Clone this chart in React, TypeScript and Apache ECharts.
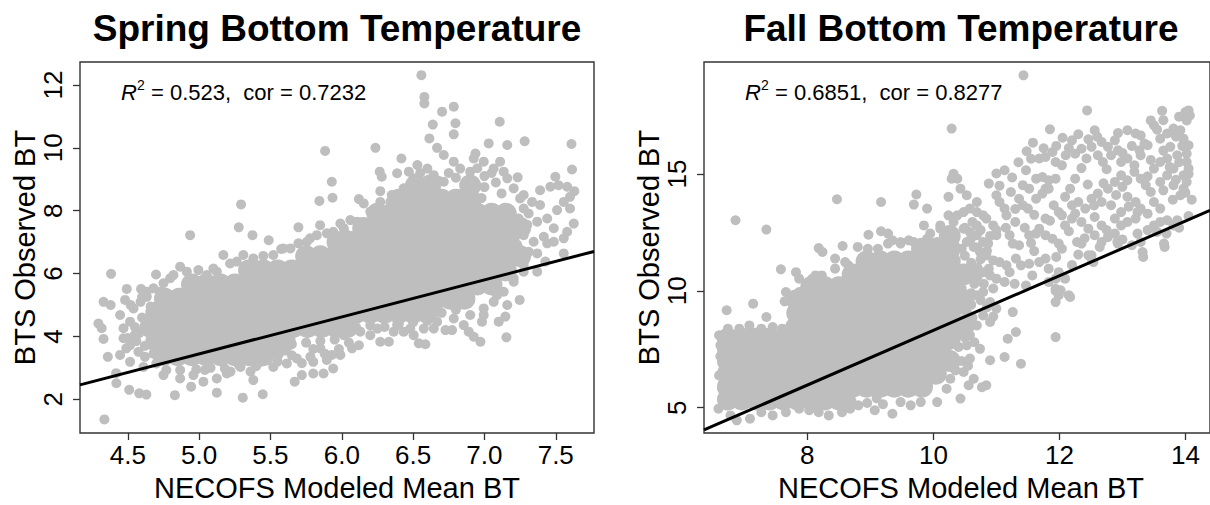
import React, { useEffect, useRef } from "react";
import * as echarts from "echarts";

// ---- tick positions ----
const springXTicks = [4.5, 5.0, 5.5, 6.0, 6.5, 7.0, 7.5];
const springYTicks = [2, 4, 6, 8, 10, 12];
const fallXTicks = [8, 10, 12, 14];
const fallYTicks = [5, 10, 15];

// ---- fit statistics ----
const springStats = { r2: "0.523", cor: "0.7232" };
const fallStats = { r2: "0.6851", cor: "0.8277" };

// ---- fitted regression lines (end points at the plot edges) ----
const springFit = [
  [4.165, 2.459],
  [7.768, 6.703],
];
const fallFit = [
  [6.36, 4.05],
  [14.39, 13.44],
];

// ---- Spring: dense body of the cloud, rows of [y, x...] ----
const springCoreRows: [number, number[]][] = [
  [3.4, [4.75, 4.85, 4.95, 5.05, 5.15, 5.25, 5.35, 5.45]],
  [3.85, [4.7, 4.8, 4.9, 5.0, 5.1, 5.2, 5.3, 5.4, 5.5, 5.6]],
  [4.3, [4.66, 4.76, 4.86, 4.96, 5.06, 5.16, 5.26, 5.36, 5.46, 5.56, 5.66, 5.76, 5.86, 5.96, 6.04]],
  [4.75, [4.7, 4.8, 4.9, 5.0, 5.1, 5.2, 5.3, 5.4, 5.5, 5.6, 5.7, 5.8, 5.9, 6.0, 6.1, 6.2, 6.3, 6.4, 6.5, 6.6]],
  [5.2, [4.76, 4.86, 4.96, 5.06, 5.16, 5.26, 5.36, 5.46, 5.56, 5.66, 5.76, 5.86, 5.96, 6.06, 6.16, 6.26, 6.36, 6.46, 6.56, 6.66, 6.76, 6.86]],
  [5.65, [4.95, 5.05, 5.15, 5.25, 5.35, 5.45, 5.55, 5.65, 5.75, 5.85, 5.95, 6.05, 6.15, 6.25, 6.35, 6.45, 6.55, 6.65, 6.75, 6.85, 6.95, 7.05]],
  [6.1, [5.35, 5.45, 5.55, 5.65, 5.75, 5.85, 5.95, 6.05, 6.15, 6.25, 6.35, 6.45, 6.55, 6.65, 6.75, 6.85, 6.95, 7.05, 7.15]],
  [6.55, [5.75, 5.85, 5.95, 6.05, 6.15, 6.25, 6.35, 6.45, 6.55, 6.65, 6.75, 6.85, 6.95, 7.05, 7.15, 7.25]],
  [7.0, [5.97, 6.07, 6.17, 6.27, 6.37, 6.47, 6.57, 6.67, 6.77, 6.87, 6.97, 7.07, 7.17]],
  [7.45, [6.15, 6.25, 6.35, 6.45, 6.55, 6.65, 6.75, 6.85, 6.95, 7.05, 7.15, 7.25]],
  [7.9, [6.25, 6.35, 6.45, 6.55, 6.65, 6.75, 6.85, 6.95, 7.05, 7.15]],
  [8.35, [6.4, 6.5, 6.6, 6.7, 6.8, 6.9]],
  [8.8, [6.52, 6.62, 6.9]],
];

// ---- Spring: individual observations around and outside the body ----
const springDots: number[][] = [
  [5.883, 9.9], [5.93, 8.92], [5.935, 8.41], [5.843, 8.31], [5.294, 8.2], [5.278, 7.47], [5.374, 7.22],
  [5.488, 7.06], [4.937, 7.22], [5.696, 7.47], [5.848, 7.54], [5.575, 6.78], [4.383, 5.99], [4.698, 5.97],
  [4.493, 5.51], [4.593, 5.51], [4.481, 5.16], [4.33, 5.1], [4.38, 5.0], [4.294, 4.41], [4.317, 4.26],
  [4.33, 3.92], [4.36, 3.35], [4.446, 3.41], [4.47, 3.94], [4.516, 3.72], [4.418, 2.83], [4.42, 2.51],
  [4.51, 2.3], [4.58, 2.19], [4.63, 2.15], [4.336, 1.36], [4.83, 2.13], [5.124, 2.21], [5.306, 2.05],
  [5.446, 2.16], [4.944, 2.4], [5.03, 2.56], [4.75, 2.77], [4.867, 2.66], [5.194, 2.82], [5.38, 2.61],
  [5.67, 2.56], [5.72, 2.77], [5.8, 2.82], [5.872, 2.82], [5.93, 3.41], [5.78, 3.35], [5.85, 3.62],
  [5.556, 3.41], [5.474, 3.25],
  [4.727, 5.42], [4.867, 6.22], [4.995, 6.11], [5.124, 6.06], [5.217, 6.32], [5.31, 6.59], [5.17, 6.59],
  [5.45, 6.56], [5.59, 6.8], [5.696, 6.96], [5.778, 7.12], [5.895, 7.28], [4.797, 5.85], [4.633, 5.42],
  [4.516, 3.19], [4.61, 3.03], [4.7, 3.14], [4.77, 2.93], [4.867, 2.93], [4.96, 2.77], [5.04, 2.93],
  [5.124, 2.66], [5.22, 2.88], [5.29, 3.03], [5.36, 2.88], [5.43, 3.19], [5.52, 3.03], [5.615, 3.14],
  [5.685, 3.3], [5.8, 3.19], [5.895, 3.25], [5.94, 2.98],
  [4.98, 2.95], [5.08, 3.0], [5.18, 2.98], [5.28, 3.08], [5.4, 3.05], [5.55, 3.2], [5.65, 3.4],
  [5.72, 3.15], [5.88, 3.45], [5.98, 3.6], [6.05, 3.8],
  [4.446, 4.68], [4.516, 4.47], [4.54, 4.89], [4.47, 4.26], [4.49, 3.62], [4.575, 3.51], [4.59, 5.1],
  [4.633, 5.26], [4.68, 5.53], [4.75, 5.69], [4.82, 5.95], [4.914, 6.06], [5.054, 5.95], [5.1, 6.16],
  [5.264, 6.38], [5.38, 6.48], [5.52, 6.59], [5.64, 6.8], [5.755, 7.01], [5.825, 7.22], [5.94, 7.33],
  [4.62, 3.35], [4.55, 4.05], [4.6, 4.6], [4.56, 3.85], [4.55, 4.3], [4.52, 5.0], [4.6, 5.25],
  [4.58, 4.1], [4.5, 3.95], [4.62, 3.7], [4.66, 4.95], [4.68, 3.45],
  [5.55, 3.7], [5.65, 3.75], [5.75, 3.8], [5.85, 3.85], [5.95, 3.9], [5.6, 3.55], [5.8, 3.6], [5.5, 3.55],
  [6.1, 4.3], [6.2, 4.35], [6.3, 4.3], [6.4, 4.4], [6.5, 4.45], [6.6, 4.5], [6.7, 4.75], [6.8, 4.85],
  [6.558, 12.31], [6.579, 11.62], [6.579, 11.41], [6.703, 11.15], [6.785, 11.31], [6.797, 10.78],
  [6.785, 10.43], [6.638, 10.74], [6.614, 10.3], [6.668, 10.0], [6.715, 9.77], [7.107, 10.83],
  [7.282, 10.21], [7.61, 10.12], [7.614, 9.31], [7.63, 8.62], [6.236, 10.0], [6.418, 9.66], [7.03, 10.14],
  [7.16, 10.09], [6.937, 9.82], [7.233, 9.06], [6.266, 9.24], [6.28, 9.08], [6.27, 8.62], [6.388, 9.19],
  [6.35, 8.5], [6.42, 8.5], [6.12, 8.37], [6.154, 8.23], [6.06, 7.7], [5.99, 7.59], [6.236, 8.07],
  [6.34, 7.91], [6.025, 7.28],
  [7.497, 9.08], [7.462, 8.76], [7.52, 8.81], [7.58, 8.76], [7.6, 8.44], [7.39, 8.65], [7.556, 8.28],
  [7.6, 8.07], [7.509, 8.02], [7.626, 7.59], [7.58, 7.33], [7.556, 7.12], [7.486, 7.44], [7.44, 7.75],
  [7.416, 7.17], [7.37, 7.65], [7.334, 8.28], [7.39, 8.18], [7.31, 7.91], [7.275, 8.5], [7.345, 7.01],
  [7.275, 7.22], [7.31, 6.69], [7.37, 6.64], [7.44, 6.96], [7.486, 7.01], [7.556, 6.64], [7.427, 6.38],
  [7.37, 6.06], [7.275, 6.27], [7.23, 6.48], [7.18, 6.16], [7.205, 5.85], [7.247, 5.16], [7.16, 5.0],
  [7.147, 4.63], [7.1, 4.47], [7.154, 3.97], [7.088, 5.31],
  [5.99, 3.41], [6.072, 3.62], [6.12, 3.72], [6.27, 3.83], [6.33, 3.83], [6.434, 4.15], [6.54, 3.78],
  [6.586, 3.75], [6.727, 4.2], [6.773, 4.2], [6.89, 4.15], [6.925, 3.99], [6.972, 3.83], [6.983, 4.47],
  [6.995, 4.68], [6.855, 4.36], [6.645, 4.25], [6.504, 4.04], [6.2, 4.04], [6.388, 4.36],
  [6.014, 7.44], [6.107, 7.65], [6.2, 7.97], [6.27, 8.28], [6.34, 8.28], [6.434, 8.71], [6.47, 9.24],
  [6.53, 9.45], [6.6, 9.34], [6.645, 9.13], [6.504, 9.03], [6.715, 8.92], [6.785, 9.56], [6.83, 9.34],
  [6.9, 9.24], [6.925, 9.66], [6.995, 9.56], [7.065, 9.34], [7.135, 9.24], [7.11, 9.56], [7.16, 9.03],
  [7.205, 8.71], [7.25, 8.39], [7.275, 8.07], [7.24, 7.75], [7.264, 7.44], [7.23, 6.91],
  [6.014, 4.04], [6.13, 4.15], [6.25, 4.25], [6.364, 4.15], [6.48, 4.25], [6.575, 4.25], [6.668, 4.47],
  [6.785, 4.57], [6.9, 4.68], [6.995, 4.89], [7.065, 5.1], [7.135, 5.42], [7.205, 5.74], [7.275, 6.06],
  [6.58, 8.9], [6.68, 8.95], [6.8, 9.05], [6.9, 8.95], [7.0, 9.1], [7.08, 8.9], [6.55, 9.2], [6.75, 9.2],
  [6.95, 9.35], [7.05, 9.2], [7.0, 8.75], [7.12, 8.55], [6.98, 8.4], [7.26, 7.3], [7.3, 7.55],
];

// ---- Fall: dense body of the cloud, rows of [y, x...] ----
const fallCoreRows: [number, number[]][] = [
  [5.35, [6.74, 6.96, 7.18, 7.4, 7.62, 7.84, 8.06, 8.28, 8.5]],
  [5.9, [6.74, 6.96, 7.18, 7.4, 7.62, 7.84, 8.06, 8.28, 8.5, 8.72, 8.94, 9.16, 9.38, 9.6, 9.82]],
  [6.45, [6.74, 6.96, 7.18, 7.4, 7.62, 7.84, 8.06, 8.28, 8.5, 8.72, 8.94, 9.16, 9.38, 9.6, 9.82, 10.04]],
  [7.0, [6.74, 6.96, 7.18, 7.4, 7.62, 7.84, 8.06, 8.28, 8.5, 8.72, 8.94, 9.16, 9.38, 9.6, 9.82, 10.04, 10.26]],
  [7.5, [6.74, 6.96, 7.18, 7.4, 7.62, 7.84, 8.06, 8.28, 8.5, 8.72, 8.94, 9.16, 9.38, 9.6, 9.82, 10.04]],
  [7.95, [6.74, 6.96, 7.18, 7.4, 7.62, 7.84, 8.06, 8.28, 8.5, 8.72, 8.94, 9.16, 9.38, 9.6, 9.82, 10.04, 10.26]],
  [8.5, [7.84, 8.06, 8.28, 8.5, 8.72, 8.94, 9.16, 9.38, 9.6, 9.82, 10.04, 10.26, 10.48]],
  [9.05, [7.84, 8.06, 8.28, 8.5, 8.72, 8.94, 9.16, 9.38, 9.6, 9.82, 10.04, 10.26]],
  [9.6, [7.84, 8.06, 8.28, 8.5, 8.72, 8.94, 9.16, 9.38, 9.6, 9.82, 10.04, 10.26, 10.48]],
  [10.15, [8.06, 8.28, 8.5, 8.72, 8.94, 9.16, 9.38, 9.6, 9.82, 10.04, 10.26]],
  [10.7, [8.72, 8.94, 9.16, 9.38, 9.6, 9.82, 10.04, 10.26, 10.48]],
  [11.25, [8.94, 9.16, 9.38, 9.6, 9.82, 10.04, 10.26]],
  [11.8, [9.82, 10.04, 10.26]],
  [12.35, [10.26]],
];

// ---- Fall: individual observations around and outside the body ----
const fallDots: number[][] = [
  [10.29, 16.94], [6.86, 13.02], [7.35, 12.62], [8.47, 13.92], [9.17, 13.8], [9.73, 14.12], [9.69, 13.69],
  [9.9, 13.52], [10.24, 14.02], [10.32, 15.01], [10.29, 14.8], [10.24, 13.23], [10.11, 12.8], [10.19, 12.38],
  [9.85, 12.8], [9.95, 12.45], [10.06, 12.09], [9.17, 12.55], [9.28, 12.45], [9.35, 12.16], [9.48, 12.09],
  [9.61, 12.16], [8.97, 12.4], [8.18, 11.83], [8.24, 11.66], [8.56, 11.92], [8.8, 11.88], [8.44, 11.38],
  [8.6, 11.23], [7.58, 10.92], [7.82, 10.8], [7.87, 10.52], [8.03, 10.38], [8.13, 10.66], [7.66, 9.95],
  [7.87, 9.95], [7.77, 9.81], [7.64, 9.55], [7.14, 9.45], [6.72, 9.17], [7.35, 8.88],
  [6.74, 8.38], [6.92, 8.38], [7.08, 8.52], [7.27, 8.38], [7.45, 8.45], [7.6, 8.38], [7.73, 8.52],
  [6.62, 7.67], [6.67, 6.95], [6.6, 6.38], [6.65, 5.81], [6.72, 5.1], [6.78, 4.67], [6.6, 8.1], [6.62, 7.2],
  [6.88, 4.46], [7.09, 4.53], [7.45, 4.67], [7.66, 4.81], [7.87, 4.96], [8.03, 4.89], [8.18, 4.81],
  [8.34, 4.67], [8.55, 4.81], [8.68, 4.96], [8.81, 5.1], [9.07, 4.89], [9.35, 4.74], [9.48, 5.24],
  [9.64, 5.1], [9.8, 5.24], [10.06, 5.24], [10.21, 5.81], [10.27, 6.24], [6.59, 4.96], [7.27, 4.81],
  [7.92, 9.95], [8.08, 10.52], [8.23, 10.66], [8.44, 10.95], [8.65, 11.09], [8.86, 11.23], [8.96, 11.8],
  [9.12, 11.8], [9.28, 12.02], [9.48, 12.02], [9.69, 12.09], [9.9, 12.23], [10.11, 12.66], [10.32, 12.95],
  [9.28, 5.74], [9.54, 5.74], [9.74, 6.1], [9.95, 6.24], [10.11, 6.67], [10.32, 6.95], [10.21, 7.52],
  [8.95, 5.2], [9.2, 5.15], [9.1, 5.4], [8.7, 5.3],
  [10.62, 12.95], [10.75, 12.6], [10.9, 12.35], [10.6, 12.25], [10.7, 11.85], [10.85, 11.7], [10.95, 11.3],
  [10.75, 11.35], [10.62, 10.95], [10.88, 10.95], [10.7, 10.6], [10.95, 10.1], [10.75, 9.6], [10.6, 9.4],
  [10.85, 9.3], [10.62, 8.85], [10.95, 8.9], [10.5, 8.0], [10.65, 7.8], [10.4, 7.6], [10.45, 7.0],
  [10.35, 6.6], [10.55, 6.8], [10.45, 11.8], [10.5, 12.7], [10.3, 7.95], [10.45, 9.2], [10.3, 11.6],
  [11.43, 19.22], [12.44, 17.72], [13.63, 17.7], [14.0, 17.65], [14.05, 17.72], [14.07, 17.5], [14.02, 17.29],
  [13.45, 17.29], [13.5, 17.08], [11.85, 16.91], [12.93, 16.75], [13.08, 16.87], [13.21, 16.73],
  [13.29, 16.65], [12.56, 16.87], [11.58, 16.34], [11.48, 15.97], [12.2, 16.44], [12.15, 16.11],
  [12.46, 16.48], [12.67, 16.37], [12.77, 16.16], [12.88, 16.44], [12.93, 16.01], [13.27, 16.01],
  [13.4, 16.23], [13.6, 16.51], [13.71, 16.73], [13.81, 16.94], [13.92, 16.87], [13.97, 16.51],
  [14.05, 16.23], [14.02, 15.87], [14.02, 15.51], [14.05, 15.23], [13.97, 14.94], [13.76, 16.16],
  [13.87, 15.8], [13.71, 15.66], [13.6, 15.51], [13.81, 15.23], [13.71, 14.94], [13.6, 14.66],
  [13.5, 15.23], [11.68, 15.66], [11.78, 15.73], [11.89, 15.94], [11.94, 15.51], [12.04, 15.37],
  [12.25, 15.87], [12.35, 16.08], [12.43, 15.66], [12.51, 16.16], [12.61, 15.8], [12.69, 15.51],
  [12.82, 15.8], [12.98, 15.51], [13.08, 15.66], [13.19, 15.37], [13.29, 15.8], [11.47, 15.16],
  [11.63, 14.8], [11.73, 14.87], [11.83, 14.73], [11.94, 14.8], [11.78, 14.37], [11.0, 15.02],
  [11.13, 15.16], [10.88, 14.59], [11.23, 14.23], [11.0, 14.09], [11.05, 13.8], [11.13, 13.52],
  [11.16, 13.23], [11.36, 13.94], [11.42, 13.66], [11.5, 13.52], [11.63, 13.94], [11.73, 14.16],
  [11.83, 14.37], [11.52, 14.37], [11.42, 14.52], [11.91, 13.66], [12.09, 14.02], [12.17, 14.37],
  [12.25, 14.8], [12.2, 13.66], [12.3, 13.8], [12.41, 13.52], [12.51, 13.94], [12.61, 14.16],
  [12.67, 13.8], [12.77, 14.37], [12.88, 14.66], [12.98, 14.94], [13.08, 14.73], [13.19, 15.09],
  [13.29, 14.8], [13.37, 14.52], [13.45, 14.23], [13.5, 13.8], [13.08, 14.02], [13.21, 13.8],
  [13.29, 13.52], [13.4, 13.3], [13.6, 13.52], [13.81, 14.52], [13.92, 14.09], [13.97, 14.37],
  [14.02, 14.66], [12.2, 13.09], [12.35, 12.95], [12.46, 12.66], [12.56, 13.16], [12.67, 12.8],
  [12.88, 13.09], [12.98, 13.37], [12.82, 13.66], [12.04, 13.23], [12.09, 12.8], [11.99, 13.37],
  [11.78, 13.09], [11.68, 12.66], [11.52, 12.38], [11.63, 12.45], [11.78, 12.38], [11.89, 12.23],
  [11.99, 12.02], [12.04, 11.8], [12.35, 12.02], [12.56, 12.38], [12.67, 12.09], [12.77, 12.3],
  [12.88, 12.45], [12.98, 12.8], [13.08, 12.95], [13.24, 12.45], [13.29, 12.09], [13.5, 12.8],
  [13.6, 12.95], [13.71, 13.02], [13.81, 12.8], [13.87, 13.02], [13.33, 11.45], [13.32, 11.66],
  [13.55, 12.52], [13.66, 12.02], [13.67, 11.88], [13.24, 13.37], [13.21, 13.09], [12.93, 12.02],
  [12.64, 11.88], [12.51, 11.52], [12.54, 11.23], [12.92, 12.09], [11.36, 11.95], [11.26, 12.02],
  [11.21, 12.38], [11.31, 11.38], [11.39, 11.09], [11.52, 11.16], [11.68, 11.23], [11.78, 11.38],
  [11.83, 10.95], [11.94, 10.52], [11.99, 10.8], [11.83, 10.38], [11.94, 10.09], [12.02, 10.02],
  [11.99, 9.81], [12.15, 9.81], [11.57, 10.66], [11.47, 10.23], [11.21, 10.8], [11.16, 11.09],
  [11.05, 11.23], [11.29, 10.3], [11.13, 10.38], [11.0, 10.52], [10.9, 10.66], [10.79, 10.8],
  [10.84, 11.52], [10.74, 11.66], [10.64, 11.88], [10.53, 12.09], [10.87, 12.02], [11.0, 12.38],
  [10.95, 12.8], [10.84, 13.09], [10.79, 13.23], [10.69, 13.37], [10.58, 13.52], [10.48, 13.37],
  [10.38, 13.23], [10.69, 12.8], [10.58, 12.52], [10.48, 12.66], [10.69, 12.38], [10.79, 12.09],
  [10.69, 13.8], [10.53, 14.09], [10.43, 14.37], [10.38, 14.8],
  [11.94, 9.52], [11.94, 10.0], [12.17, 9.74], [11.94, 8.02], [11.26, 9.09], [11.18, 7.95], [11.31, 8.24],
  [11.13, 7.17], [11.39, 6.88], [10.9, 7.03], [11.0, 9.24], [10.9, 8.67], [10.79, 8.95], [10.69, 8.52],
  [10.58, 8.1], [10.53, 7.67], [10.74, 7.52], [10.58, 7.1], [10.48, 6.53], [10.64, 6.24], [10.56, 5.96],
  [10.77, 5.88], [10.84, 5.96], [10.43, 5.39], [10.69, 9.81], [10.79, 9.95], [10.9, 9.52], [10.53, 9.09],
  [10.43, 8.52], [12.46, 11.52], [12.52, 11.28], [12.09, 10.52], [12.28, 12.09],
  [10.5, 11.5], [10.6, 11.2], [10.7, 11.0], [10.55, 10.6], [10.65, 10.3], [10.6, 9.9], [10.8, 10.3],
  [10.45, 10.1], [11.0, 12.6],
  [13.55, 16.9], [13.65, 17.3], [13.9, 17.45], [13.85, 16.6], [13.95, 16.2], [13.65, 16.0], [13.9, 15.5],
  [13.75, 15.3], [14.05, 15.0], [13.85, 14.75], [13.65, 14.3], [13.8, 13.9], [14.0, 14.2], [13.4, 14.9],
  [13.45, 15.6], [13.35, 16.3], [13.15, 16.2], [13.0, 15.9], [12.6, 16.6], [12.3, 16.7], [12.05, 16.55],
  [11.75, 16.1], [11.55, 15.65], [11.35, 15.5], [11.25, 14.85], [11.05, 14.5], [11.3, 13.5], [11.6, 13.25],
  [11.85, 13.0], [12.15, 12.55], [12.4, 12.25], [12.75, 12.6], [13.0, 12.2], [13.15, 11.95], [13.4, 12.6],
  [13.1, 13.6], [12.9, 14.1], [12.7, 14.6], [12.45, 14.55], [12.35, 15.25], [12.1, 15.8], [11.95, 16.2],
  [12.75, 15.2], [13.0, 14.45], [12.55, 13.65], [12.25, 13.3], [11.55, 12.05], [11.45, 12.7], [11.15, 12.7],
  [11.3, 12.95], [11.6, 11.7], [11.95, 11.45], [12.2, 11.1], [12.3, 11.55], [13.7, 12.45], [13.9, 12.7],
  [14.05, 13.2], [14.1, 13.9],
];

const GRAY = "#BEBEBE";
const INK = "#333333";
const FONT = '"Liberation Sans", Arial, Helvetica, sans-serif';

function rowsToPoints(rows: [number, number[]][]): number[][] {
  const out: number[][] = [];
  rows.forEach(([y, xs]) => xs.forEach((x) => out.push([x, y])));
  return out;
}

// Plot-region placement for each panel (pixels) and axis extents
const panels = [
  {
    left: 80,
    title: "Spring Bottom Temperature",
    xMin: 4.165, xMax: 7.768, yMin: 0.927, yMax: 12.73,
    xTicks: springXTicks, yTicks: springYTicks, xDigits: 1,
    stats: springStats, core: rowsToPoints(springCoreRows), dots: springDots, fit: springFit,
  },
  {
    left: 704,
    title: "Fall Bottom Temperature",
    xMin: 6.36, xMax: 14.39, yMin: 3.918, yMax: 19.79,
    xTicks: fallXTicks, yTicks: fallYTicks, xDigits: 0,
    stats: fallStats, core: rowsToPoints(fallCoreRows), dots: fallDots, fit: fallFit,
  },
];

const PLOT_TOP = 62;
const PLOT_W = 514;
const PLOT_H = 371;

function buildOption(): echarts.EChartsOption {
  const graphic: any[] = [];
  panels.forEach((p) => {
    const cx = p.left + PLOT_W / 2;
    graphic.push({
      type: "text", x: cx, y: 28,
      style: { text: p.title, font: `bold 37px ${FONT}`, fill: "#000", align: "center", verticalAlign: "middle" },
    });
    graphic.push({
      type: "text", x: cx, y: 488,
      style: { text: "NECOFS Modeled Mean BT", font: `29px ${FONT}`, fill: "#000", align: "center", verticalAlign: "middle" },
    });
    graphic.push({
      type: "text", x: p.left - 55, y: PLOT_TOP + PLOT_H / 2, rotation: Math.PI / 2,
      style: { text: "BTS Observed BT", font: `29px ${FONT}`, fill: "#000", align: "center", verticalAlign: "middle" },
    });
    const ax = p.left + 41;
    graphic.push({
      type: "text", x: ax, y: 92,
      style: { text: "R", font: `italic 22px ${FONT}`, fill: "#000", align: "left", verticalAlign: "middle" },
    });
    graphic.push({
      type: "text", x: ax + 16, y: 85,
      style: { text: "2", font: `14px ${FONT}`, fill: "#000", align: "left", verticalAlign: "middle" },
    });
    graphic.push({
      type: "text", x: ax + 30, y: 92,
      style: {
        text: `= ${p.stats.r2},  cor = ${p.stats.cor}`,
        font: `22px ${FONT}`, fill: "#000", align: "left", verticalAlign: "middle",
      },
    });
  });

  return {
    animation: false,
    backgroundColor: "#ffffff",
    grid: panels.map((p) => ({
      left: p.left, top: PLOT_TOP, width: PLOT_W, height: PLOT_H,
      show: true, borderColor: INK, borderWidth: 1.4, backgroundColor: "transparent",
      containLabel: false,
    })),
    xAxis: panels.map((p, i) => ({
      type: "value", gridIndex: i, min: p.xMin, max: p.xMax, position: "bottom",
      axisLine: { show: false },
      splitLine: { show: false },
      axisTick: { show: true, length: 7, lineStyle: { color: INK, width: 1.3 }, customValues: p.xTicks },
      axisLabel: {
        customValues: p.xTicks,
        formatter: (v: number) => v.toFixed(p.xDigits),
        fontSize: 26, fontFamily: FONT, color: "#000", margin: 9,
      },
    })) as any,
    yAxis: panels.map((p, i) => ({
      type: "value", gridIndex: i, min: p.yMin, max: p.yMax, position: "left",
      axisLine: { show: false },
      splitLine: { show: false },
      axisTick: { show: true, length: 7, lineStyle: { color: INK, width: 1.3 }, customValues: p.yTicks },
      axisLabel: {
        customValues: p.yTicks,
        rotate: 90,
        fontSize: 26, fontFamily: FONT, color: "#000", margin: 14,
      },
    })) as any,
    graphic,
    series: panels.flatMap((p, i) => [
      {
        type: "scatter", xAxisIndex: i, yAxisIndex: i, data: p.core,
        symbol: "circle", symbolSize: 22, silent: true,
        itemStyle: { color: GRAY, opacity: 1 },
      },
      {
        type: "scatter", xAxisIndex: i, yAxisIndex: i, data: p.dots,
        symbol: "circle", symbolSize: 10, silent: true,
        itemStyle: { color: GRAY, opacity: 1 },
      },
      {
        type: "line", xAxisIndex: i, yAxisIndex: i, data: p.fit,
        symbol: "none", silent: true,
        lineStyle: { color: "#000", width: 3 }, z: 5,
      },
    ]) as any,
  };
}

export default function App() {
  const ref = useRef<HTMLDivElement>(null);
  useEffect(() => {
    if (!ref.current) return;
    const chart = echarts.init(ref.current, undefined, { renderer: "svg" });
    chart.setOption(buildOption());
    return () => chart.dispose();
  }, []);
  return (
    <div
      ref={ref}
      style={{ position: "fixed", left: 0, top: 0, width: 1210, height: 505, background: "#fff" }}
    />
  );
}
